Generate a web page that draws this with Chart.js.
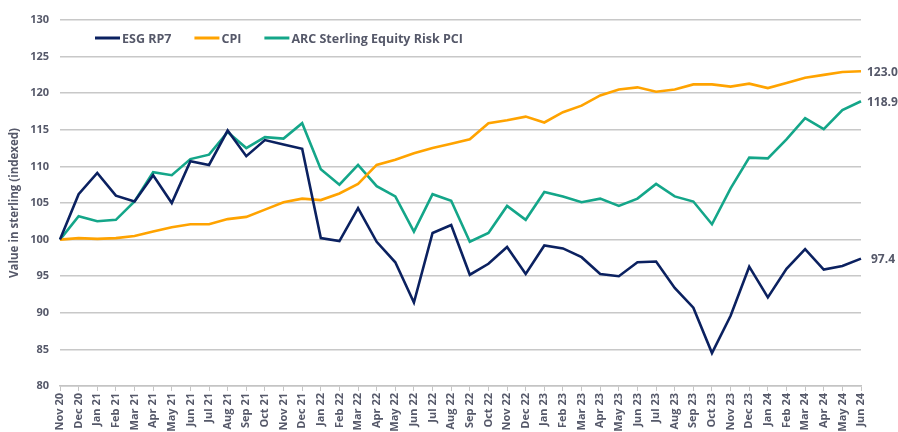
<!DOCTYPE html>
<html>
<head>
<meta charset="utf-8">
<script src="https://cdn.jsdelivr.net/npm/chart.js@4"></script>
<style>
  html, body { margin: 0; padding: 0; background: #fff; }
  canvas { display: block; }
</style>
</head>
<body>
<canvas id="grafikon" width="898" height="432"></canvas>
<script>
// Mjeseci na x osi
const mjeseci = ['Nov 20', 'Dec 20',
    'Jan 21', 'Feb 21', 'Mar 21', 'Apr 21', 'May 21', 'Jun 21', 'Jul 21', 'Aug 21', 'Sep 21', 'Oct 21', 'Nov 21', 'Dec 21',
    'Jan 22', 'Feb 22', 'Mar 22', 'Apr 22', 'May 22', 'Jun 22', 'Jul 22', 'Aug 22', 'Sep 22', 'Oct 22', 'Nov 22', 'Dec 22',
    'Jan 23', 'Feb 23', 'Mar 23', 'Apr 23', 'May 23', 'Jun 23', 'Jul 23', 'Aug 23', 'Sep 23', 'Oct 23', 'Nov 23', 'Dec 23',
    'Jan 24', 'Feb 24', 'Mar 24', 'Apr 24', 'May 24', 'Jun 24'];

// Vrijednosti serija (procijenjeno sa slike)
const esgRp7 = [100, 106.2, 109.1, 106.0, 105.2, 108.8, 105.0, 110.7, 110.2, 114.9, 111.4, 113.6, 113.0, 112.4,
    100.2, 99.8, 104.3, 99.7, 96.9, 91.4, 100.9, 102.0, 95.2, 96.7, 99.0, 95.3,
    99.2, 98.8, 97.6, 95.3, 95.0, 96.9, 97.0, 93.4, 90.7, 84.5, 89.6, 96.3,
    92.1, 96.0, 98.7, 95.9, 96.4, 97.4];
const cpi = [100, 100.2, 100.1, 100.2, 100.5, 101.1, 101.7, 102.1, 102.1, 102.8, 103.1, 104.1, 105.1, 105.6,
    105.4, 106.3, 107.6, 110.2, 110.9, 111.8, 112.5, 113.1, 113.7, 115.9, 116.3, 116.8,
    116.0, 117.4, 118.3, 119.7, 120.5, 120.8, 120.2, 120.5, 121.2, 121.2, 120.9, 121.3,
    120.7, 121.4, 122.1, 122.5, 122.9, 123.0];
const arcPci = [100, 103.2, 102.5, 102.7, 105.2, 109.2, 108.8, 111.0, 111.6, 114.7, 112.5, 114.0, 113.8, 115.9,
    109.6, 107.5, 110.2, 107.3, 105.9, 101.1, 106.2, 105.3, 99.7, 100.9, 104.6, 102.7,
    106.5, 105.9, 105.1, 105.6, 104.6, 105.6, 107.6, 105.9, 105.2, 102.1, 107.0, 111.2,
    111.1, 113.7, 116.6, 115.1, 117.7, 118.9];

const nazivi = ['ESG RP7', 'CPI', 'ARC Sterling Equity Risk PCI'];
const boje = ['#0b2160', '#ffa300', '#14a689'];
const sivaTekst = '#555869';
const fontOsnovni = '"Open Sans", Lato, sans-serif';

// Legenda unutar grafa i oznake na kraju linija
const dodaciPlugin = {
    id: 'dodaci',
    afterDatasetsDraw(chart) {
        const c = chart.ctx;
        const area = chart.chartArea;
        c.save();
        c.textBaseline = 'middle';
        c.fillStyle = sivaTekst;

        // legenda
        c.font = 'bold 12.5px ' + fontOsnovni;
        let x = area.left + 35;
        const y = area.top + 18;
        chart.data.datasets.forEach(ds => {
            c.strokeStyle = ds.borderColor;
            c.lineWidth = 3;
            c.beginPath();
            c.moveTo(x, y);
            c.lineTo(x + 25, y);
            c.stroke();
            c.fillText(ds.label, x + 27, y + 1);
            x += 27 + c.measureText(ds.label).width + 23;
        });

        // vrijednosti na kraju
        c.font = 'bold 12px ' + fontOsnovni;
        chart.data.datasets.forEach((ds, i) => {
            const meta = chart.getDatasetMeta(i);
            const zadnja = meta.data[meta.data.length - 1];
            const v = ds.data[ds.data.length - 1];
            c.fillText(v.toFixed(1), zadnja.x + (v < 100 ? 10 : 6), zadnja.y + 1);
        });
        c.restore();
    }
};

const ctx = document.getElementById('grafikon').getContext('2d');
new Chart(ctx, {
    type: 'line',
    data: {
        labels: mjeseci,
        datasets: [esgRp7, cpi, arcPci].map((d, i) => ({
            label: nazivi[i],
            data: d,
            borderColor: boje[i],
            backgroundColor: boje[i],
            borderWidth: 2.6,
            pointRadius: 0,
            tension: 0
        }))
    },
    options: {
        responsive: false,
        animation: false,
        layout: { padding: { top: 20, right: 37, left: 0, bottom: 0 } },
        plugins: {
            legend: { display: false },
            tooltip: { enabled: false }
        },
        scales: {
            x: {
                grid: { display: true, drawOnChartArea: false, drawTicks: true, tickLength: 5, color: '#c4c4c4' },
                border: { display: true, color: '#c4c4c4', width: 1.5 },
                ticks: {
                    autoSkip: false,
                    maxRotation: 90,
                    minRotation: 90,
                    padding: 2,
                    color: sivaTekst,
                    font: { family: fontOsnovni, size: 11, weight: 'bold' }
                },
                afterFit(scale) { scale.height = 46; }
            },
            y: {
                min: 80,
                max: 130,
                ticks: {
                    stepSize: 5,
                    padding: 11,
                    color: sivaTekst,
                    font: { family: fontOsnovni, size: 11, weight: 'bold' }
                },
                grid: { color: '#c8c8c8', lineWidth: 1.5, drawTicks: false },
                border: { display: false },
                title: {
                    display: true,
                    text: 'Value in sterling (indexed)',
                    color: sivaTekst,
                    padding: { top: 8, bottom: 0 },
                    font: { family: fontOsnovni, size: 11.5, weight: 'bold' }
                },
                afterFit(scale) { scale.width = 60; }
            }
        }
    },
    plugins: [dodaciPlugin]
});
</script>
</body>
</html>
